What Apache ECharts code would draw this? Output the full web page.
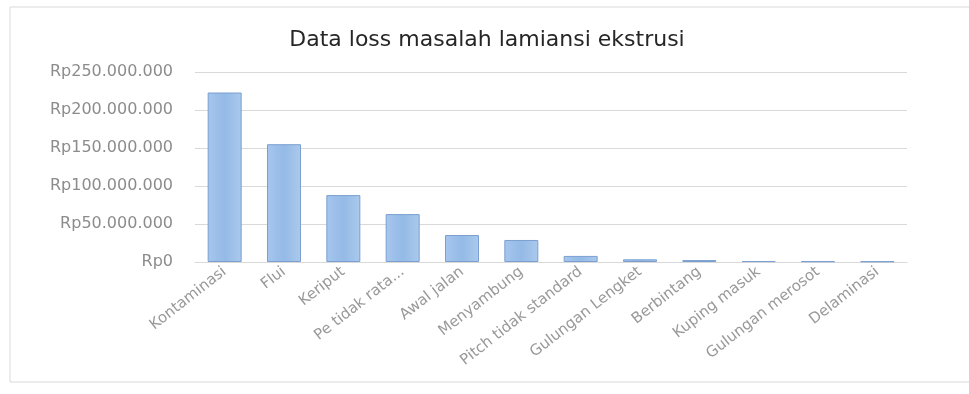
<!DOCTYPE html>
<html><head><meta charset="utf-8">
<script src="https://cdn.jsdelivr.net/npm/echarts@6/dist/echarts.min.js"></script>
<style>html,body{margin:0;padding:0;background:#fff}#c{width:969px;height:394px}</style>
</head><body><div id="c"></div>
<script>
const categories = ["Kontaminasi","Flui","Keriput","Pe tidak rata...","Awal jalan","Menyambung","Pitch tidak standard","Gulungan Lengket","Berbintang","Kuping masuk","Gulungan merosot","Delaminasi"];
const lossValues = [223000000,155000000,88000000,63000000,35500000,29000000,8000000,3500000,2500000,1200000,1000000,800000];
const yTicks = [0,50000000,100000000,150000000,200000000,250000000];

function fmt(v){ return 'Rp' + String(v).replace(/\B(?=(\d{3})+(?!\d))/g,'.'); }

const chart = echarts.init(document.getElementById('c'));
chart.setOption({
  animation:false,
  backgroundColor:'#fff',
  title:{text:'Data loss masalah lamiansi ekstrusi',left:482,top:24,textAlign:'center',
    textStyle:{fontFamily:'DejaVu Sans',fontSize:22,fontWeight:'normal',color:'#262626'}},
  graphic:[{type:'rect',shape:{x:10,y:7,width:980,height:375},style:{fill:'none',stroke:'#d9d9d9',lineWidth:1}}],
  grid:{left:195,right:62,top:72,bottom:132},
  xAxis:{type:'category',data:categories,
    axisLine:{lineStyle:{color:'#d9d9d9'}},axisTick:{show:false},
    axisLabel:{rotate:38,interval:0,color:'#999999',fontFamily:'DejaVu Sans',fontSize:15,margin:8}},
  yAxis:{type:'value',min:yTicks[0],max:yTicks[yTicks.length-1],interval:50000000,
    axisLine:{show:false},axisTick:{show:false},
    splitLine:{lineStyle:{color:'#d9d9d9'}},
    axisLabel:{formatter:fmt,color:'#8c8c8c',fontFamily:'DejaVu Sans',fontSize:16,margin:22}},
  series:[{type:'bar',data:lossValues,barWidth:34,
    itemStyle:{borderColor:'#7a9fd0',borderWidth:1,
      color:new echarts.graphic.LinearGradient(0,0,1,0,[{offset:0,color:'#a6c6ee'},{offset:0.5,color:'#94bae6'},{offset:1,color:'#abc9ec'}])}}]
});
</script></body></html>
